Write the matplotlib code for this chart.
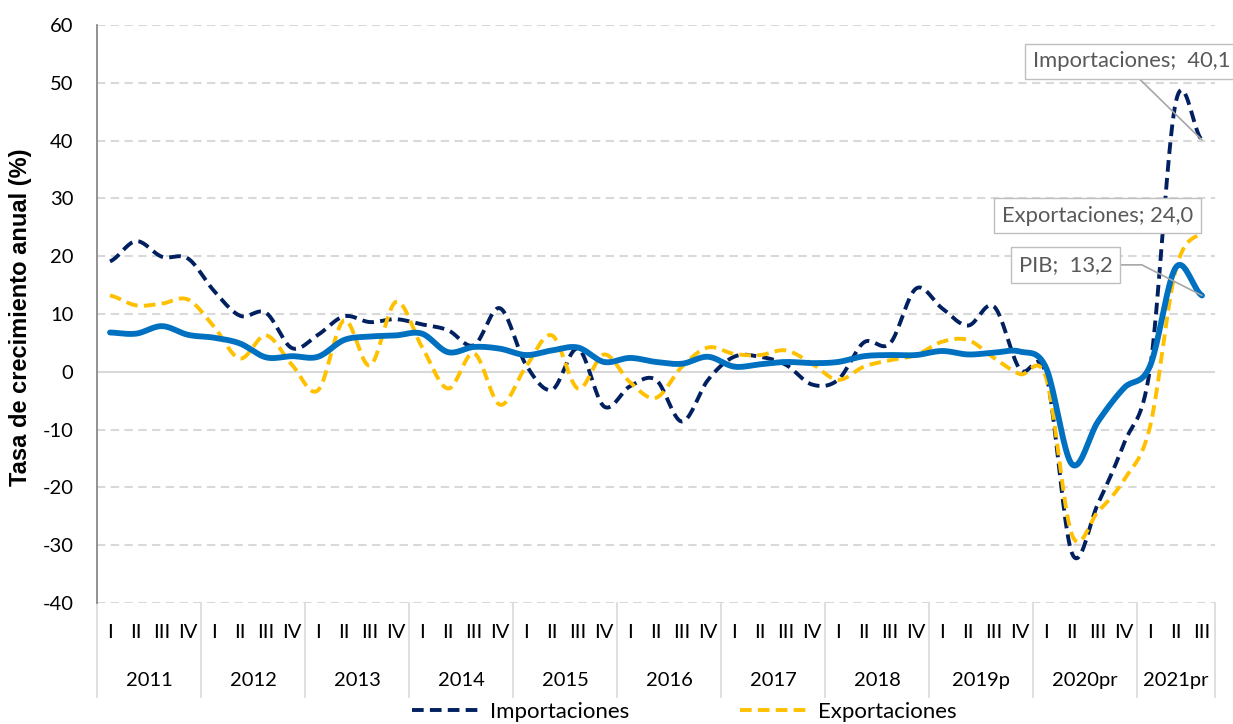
import numpy as np
import matplotlib
matplotlib.use("Agg")
import matplotlib.pyplot as plt
import matplotlib.transforms as mtransforms
from matplotlib.lines import Line2D

# Data: annual growth rate (%) by quarter, 2011-I .. 2021-III
years = ['2011', '2012', '2013', '2014', '2015', '2016', '2017', '2018',
         '2019p', '2020pr', '2021pr']
quarters_per_year = [4, 4, 4, 4, 4, 4, 4, 4, 4, 4, 3]
quarter_names = ['I', 'II', 'III', 'IV']

importaciones = [19.1, 22.6, 19.9, 19.6,
                 14.0, 9.7, 10.2, 4.1,
                 6.4, 9.6, 8.6, 9.1,
                 8.2, 7.2, 4.6, 11.0,
                 1.2, -3.1, 4.0, -6.0,
                 -2.5, -1.4, -8.6, -1.4,
                 2.6, 2.6, 1.2, -2.2,
                 -1.4, 5.1, 4.9, 14.4,
                 11.0, 8.0, 11.3, 0.4,
                 -0.4, -31.4, -22.8, -12.4,
                 0.5, 46.8, 40.1]

exportaciones = [13.2, 11.5, 11.8, 12.5,
                 7.8, 2.3, 6.3, 1.2,
                 -3.2, 8.9, 1.1, 12.1,
                 4.3, -2.9, 3.2, -5.7,
                 0.9, 6.3, -2.9, 3.0,
                 -1.8, -4.5, 0.9, 4.2,
                 3.1, 2.9, 3.7, 1.4,
                 -1.4, 0.9, 2.0, 2.9,
                 5.2, 5.5, 2.4, -0.4,
                 -1.0, -28.2, -24.2, -18.7,
                 -9.5, 17.8, 24.0]

pib = [6.8, 6.6, 7.9, 6.4,
       5.9, 4.9, 2.5, 2.7,
       2.6, 5.5, 6.1, 6.3,
       6.6, 3.4, 4.3, 4.0,
       2.9, 3.7, 4.2, 1.7,
       2.4, 1.7, 1.4, 2.6,
       0.9, 1.3, 1.7, 1.5,
       1.7, 2.7, 2.9, 2.9,
       3.6, 3.0, 3.3, 3.5,
       0.7, -16.0, -8.6, -2.8,
       1.0, 18.1, 13.2]

NAVY = '#002060'
YELLOW = '#FFC000'
BLUE = '#0070C0'
GRAY_TXT = '#595959'
LEADER = '#a6a6a6'


def smooth(y, n=20):
    # Catmull-Rom through the points, like Excel's smoothed line
    y = np.asarray(y, dtype=float)
    p = np.concatenate([[y[0]], y, [y[-1]]])
    xs, ys = [], []
    t = np.linspace(0, 1, n, endpoint=False)
    for i in range(len(y) - 1):
        p0, p1, p2, p3 = p[i], p[i + 1], p[i + 2], p[i + 3]
        seg = 0.5 * ((2 * p1) + (-p0 + p2) * t
                     + (2 * p0 - 5 * p1 + 4 * p2 - p3) * t ** 2
                     + (-p0 + 3 * p1 - 3 * p2 + p3) * t ** 3)
        xs.extend(i + t)
        ys.extend(seg)
    xs.append(len(y) - 1)
    ys.append(y[-1])
    return np.array(xs), np.array(ys)


plt.rcParams['font.family'] = ['Liberation Sans', 'DejaVu Sans']
plt.rcParams['axes.unicode_minus'] = False
lab_font = ['Lato', 'DejaVu Sans']

fig = plt.figure(figsize=(12.33, 7.24), dpi=100)
ax = fig.add_axes([97 / 1233, 1 - 603 / 724, (1215 - 97) / 1233, 578 / 724])

n = len(pib)
ax.set_xlim(-0.5, n - 0.5)
ax.set_ylim(-40, 60)

# gridlines
for v in range(-40, 61, 10):
    if v == 0:
        ax.axhline(v, color='#d9d9d9', lw=1.5, zorder=0)
    else:
        ax.axhline(v, color='#d9d9d9', lw=1.5, ls=(0, (4, 2.6)), zorder=0)

dash = (0, (3.0, 1.6))
x, y = smooth(importaciones)
ax.plot(x, y, color=NAVY, lw=2.8, ls=dash, zorder=3)
x, y = smooth(exportaciones)
ax.plot(x, y, color=YELLOW, lw=2.8, ls=dash, zorder=4)
x, y = smooth(pib)
ax.plot(x, y, color=BLUE, lw=4.2, solid_capstyle='round', zorder=5)

# axes styling
for s in ['top', 'right', 'bottom']:
    ax.spines[s].set_visible(False)
ax.spines['left'].set_color('#7f7f7f')
ax.spines['left'].set_linewidth(1.2)
ax.set_yticks(range(-40, 61, 10))
ax.tick_params(axis='y', length=0, pad=17)
for lab in ax.get_yticklabels():
    lab.set_family(lab_font)
    lab.set_fontsize(14.5)
ax.set_xticks([])
ax.set_ylabel('Tasa de crecimiento anual (%)', fontsize=17, fontweight='bold')
ax.yaxis.set_label_coords(-0.058, 0.494)

# two-level category axis
trans = mtransforms.blended_transform_factory(ax.transData, ax.transAxes)
pos = 0
edges = [-0.5]
for yr, nq in zip(years, quarters_per_year):
    for q in range(nq):
        ax.text(pos + q, -0.051, quarter_names[q], transform=trans,
                ha='center', va='center', fontsize=14.5, family=lab_font)
    ax.text(pos + (nq - 1) / 2, -0.134, yr, transform=trans,
            ha='center', va='center', fontsize=14.5, family=lab_font)
    pos += nq
    edges.append(pos - 0.5)
for e in edges:
    ax.plot([e, e], [0, -0.163], transform=trans, color='#d9d9d9',
            lw=1.2, clip_on=False)

# data labels for the last quarter
box = dict(boxstyle='square,pad=0.35', fc='white', ec='#bfbfbf', lw=1)
last = n - 1
lbl_size = 15.8
ax.annotate(f'Importaciones;  {importaciones[-1]:.1f}'.replace('.', ','),
            xy=(last, importaciones[-1]), xytext=(35.5, 53.7),
            ha='left', va='center', fontsize=lbl_size, color=GRAY_TXT,
            family=lab_font, bbox=box, annotation_clip=False, zorder=6,
            arrowprops=dict(arrowstyle='-', color=LEADER, lw=1.2,
                            shrinkA=0, shrinkB=0, relpos=(0.5, 0)))
ax.text(37.98, 27.0, f'Exportaciones; {exportaciones[-1]:.1f}'.replace('.', ','),
        ha='center', va='center', fontsize=lbl_size, color=GRAY_TXT,
        family=lab_font, bbox=box, zorder=6)
ax.annotate(f'PIB;  {pib[-1]:.1f}'.replace('.', ','),
            xy=(last, pib[-1]), xytext=(36.75, 18.5),
            ha='center', va='center', fontsize=lbl_size, color=GRAY_TXT,
            family=lab_font, bbox=box, zorder=6,
            arrowprops=dict(arrowstyle='-', color=LEADER, lw=1.2,
                            shrinkA=0, shrinkB=0, relpos=(1, 0.5),
                            connectionstyle='angle,angleA=0,angleB=-27,rad=0'))

# legend
handles = [Line2D([], [], color=NAVY, lw=2.8, ls=dash),
           Line2D([], [], color=YELLOW, lw=2.8, ls=dash)]
fig.legend(handles, ['Importaciones', 'Exportaciones'], loc='center',
           bbox_to_anchor=(0.555, 0.017), ncol=2, frameon=False,
           handlelength=3.1, columnspacing=5.0, handletextpad=0.4,
           prop={'family': lab_font, 'size': 16})

fig.savefig('out.png', dpi=100)
